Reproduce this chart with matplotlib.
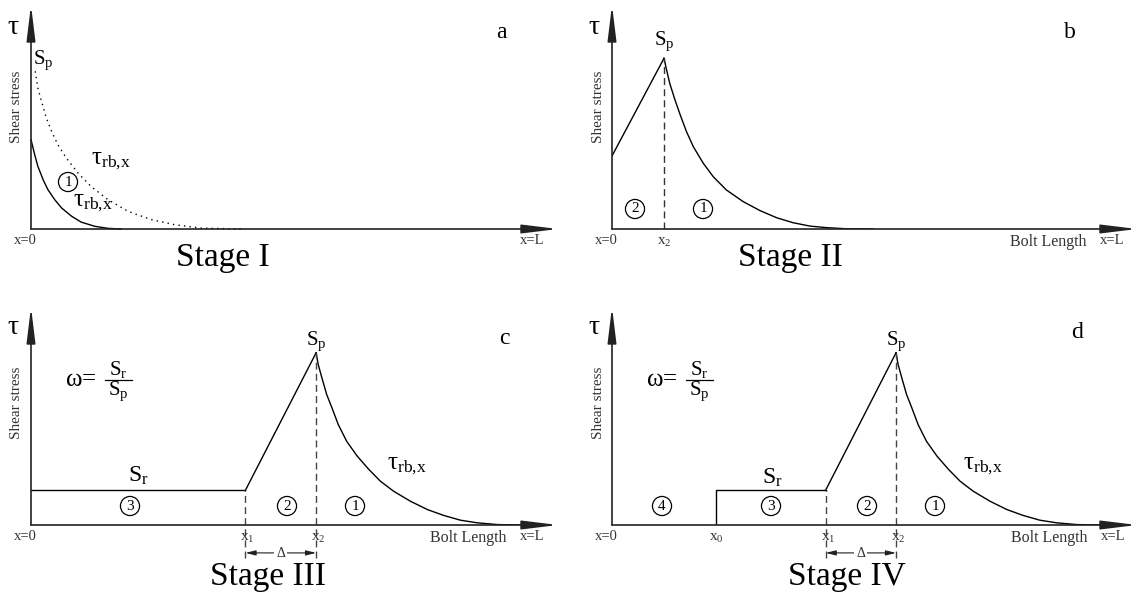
import matplotlib
matplotlib.use("Agg")
import matplotlib.pyplot as plt
from matplotlib.lines import Line2D

plt.rcParams['font.family'] = ['Liberation Serif', 'DejaVu Serif']
plt.rcParams['mathtext.fontset'] = 'custom'
plt.rcParams['mathtext.rm'] = 'Liberation Serif'
plt.rcParams['mathtext.it'] = 'Liberation Serif:italic'

W, H = 1137, 599

# ---- data (x as fraction of bolt length, stress in relative units) ----
# Stage I
a_dot_x = [0.008, 0.013, 0.020, 0.029, 0.039, 0.051, 0.067, 0.089, 0.114, 0.146, 0.184, 0.228, 0.273, 0.323, 0.399]
a_dot_y = [0.704, 0.629, 0.570, 0.496, 0.436, 0.376, 0.317, 0.250, 0.190, 0.131, 0.079, 0.042, 0.019, 0.004, 0]
a_sol_x = [0, 0.007, 0.013, 0.023, 0.032, 0.045, 0.058, 0.077, 0.095, 0.121, 0.146, 0.171]
a_sol_y = [0.399, 0.332, 0.280, 0.220, 0.176, 0.131, 0.094, 0.057, 0.031, 0.012, 0.003, 0]

# Stage II
b_rise_x = [0, 0.099]
b_rise_y = [0.326, 0.762]
b_dec_x = [0.099, 0.104, 0.110, 0.120, 0.130, 0.142, 0.155, 0.174, 0.193, 0.218, 0.250,
           0.282, 0.314, 0.345, 0.377, 0.409, 0.447, 0.498]
b_dec_y = [0.762, 0.710, 0.650, 0.576, 0.509, 0.434, 0.367, 0.293, 0.233, 0.174, 0.122,
           0.082, 0.050, 0.028, 0.013, 0.006, 0.001, 0]

# Stage III / IV
s_r = 0.16
s_p = 0.790
x0_pos = 0.198
x1_pos = 0.407
x2_pos = 0.541
cd_dec_x = [0.541, 0.545, 0.552, 0.561, 0.571, 0.583, 0.599, 0.619, 0.641, 0.663, 0.688,
            0.720, 0.752, 0.783, 0.815, 0.847, 0.885, 0.936]
cd_dec_y = [0.790, 0.736, 0.675, 0.599, 0.538, 0.461, 0.384, 0.316, 0.255, 0.201, 0.155,
            0.109, 0.071, 0.044, 0.022, 0.010, 0.002, 0]

fig = plt.figure(figsize=(W / 100, H / 100), dpi=100)

AX_COLOR = '#222222'
TXT = '#333333'
lw = 1.0
TAU_RB = r'$\mathrm{\tau_{rb{,}x}}$'


def make_axes(ox, oy, tip_x, tip_y):
    ax = fig.add_axes([ox / W, 1 - oy / H, (tip_x - ox) / W, (oy - tip_y) / H])
    ax.set_xlim(0, 1)
    ax.set_ylim(0, 1)
    ax.axis('off')
    arrow = dict(arrowstyle='-|>,head_length=1.8,head_width=0.22', color=AX_COLOR,
                 lw=1.2, shrinkA=0, shrinkB=0, mutation_scale=12)
    ax.annotate('', xy=(1, 0), xytext=(0, 0), arrowprops=arrow, annotation_clip=False)
    ax.annotate('', xy=(0, 1), xytext=(0, 0), arrowprops=arrow, annotation_clip=False)
    return ax


def ftext(px, py, s, size, color='black', **kw):
    fig.text(px / W, 1 - py / H, s, fontsize=size, color=color,
             ha=kw.pop('ha', 'center'), va=kw.pop('va', 'center'), **kw)


def circ(px, py, n):
    ftext(px, py, n, 11, bbox=dict(boxstyle='circle,pad=0.2', fc='none', ec='black', lw=0.9))


def common(ox, oy, tau_y, lab_y, tag, tag_x, tag_y, stage, stage_x, stage_y, bolt, L_x):
    ftext(ox - 18, tau_y, r'$\mathrm{\tau}$', 20)
    ftext(ox - 14, lab_y, 'Shear stress', 11, color=TXT, rotation=90)
    ftext(ox - 6, oy + 11, 'x=0', 10.5, color=TXT)
    ftext(L_x, oy + 11, 'x=L', 10.5, color=TXT)
    if bolt:
        ftext(L_x - 64, oy + 13, 'Bolt Length', 11.5, color=TXT)
    ftext(tag_x, tag_y, tag, 17)
    ftext(stage_x, stage_y, stage, 24)


def omega(ox, oy):
    # omega = Sr / Sp, built from separate pieces
    ftext(ox + 50, oy - 145, r'$\mathrm{\omega}$=', 18)
    ftext(ox + 87, oy - 155, r'$\mathrm{S_r}$', 15)
    ftext(ox + 87, oy - 134, r'$\mathrm{S_p}$', 15)
    fig.add_artist(Line2D([(ox + 74) / W, (ox + 101) / W], [1 - (oy - 145) / H] * 2,
                          color='black', lw=0.9))


# ---- panel a ----
ax = make_axes(31, 229, 558, 5)
ax.plot(a_dot_x, a_dot_y, color='black', lw=1.0, ls=(0, (1, 3)), clip_on=False)
ax.plot(a_sol_x, a_sol_y, color='black', lw=lw, clip_on=False)
common(31, 229, 27, 107, 'a', 501, 33, 'Stage I', 223, 258, False, 532)
ftext(43, 60, r'$\mathrm{S_p}$', 15)
ftext(111, 161, TAU_RB, 18)
ftext(93, 203, TAU_RB, 18)
circ(68, 182, '1')

# ---- panel b ----
ax = make_axes(612, 229, 1137, 5)
ax.plot(b_rise_x, b_rise_y, color='black', lw=lw)
ax.plot(b_dec_x, b_dec_y, color='black', lw=lw)
ax.plot([b_rise_x[1]] * 2, [0, b_rise_y[1]], color='#333333', lw=1.0, ls=(0, (5, 3)))
ax.text(b_rise_x[1], b_rise_y[1] + 0.075, r'$\mathrm{S_p}$', fontsize=15, ha='center', va='center')
ax.text(b_rise_x[1], -0.06, r'$\mathrm{x_2}$', fontsize=11, color=TXT, ha='center', va='center')
common(612, 229, 27, 107, 'b', 1070, 33, 'Stage II', 790, 258, True, 1112)
circ(635, 209, '2')
circ(703, 209, '1')


def stage34(ax, ox, oy, with_x0):
    if with_x0:
        ax.plot([x0_pos, x0_pos, x1_pos], [0, s_r, s_r], color='black', lw=lw)
        ax.text(x0_pos, -0.06, r'$\mathrm{x_0}$', fontsize=11, color=TXT, ha='center', va='center')
    else:
        ax.plot([0, x1_pos], [s_r, s_r], color='black', lw=lw)
    ax.plot([x1_pos, x2_pos], [s_r, s_p], color='black', lw=lw)
    ax.plot(cd_dec_x, cd_dec_y, color='black', lw=lw)
    dash = dict(color='#444444', lw=1.0, ls=(0, (5, 3)), clip_on=False)
    ax.plot([x1_pos, x1_pos], [-0.15, s_r], **dash)
    ax.plot([x2_pos, x2_pos], [-0.15, s_p], **dash)
    ax.text(x1_pos + 0.004, -0.06, r'$\mathrm{x_1}$', fontsize=11, color=TXT, ha='center', va='center')
    ax.text(x2_pos + 0.004, -0.06, r'$\mathrm{x_2}$', fontsize=11, color=TXT, ha='center', va='center')
    ax.annotate('', xy=(x1_pos, -0.128), xytext=(x2_pos, -0.128),
                arrowprops=dict(arrowstyle='<|-|>,head_length=0.6,head_width=0.15', color=AX_COLOR,
                                lw=0.8, shrinkA=0, shrinkB=0), annotation_clip=False)
    ax.text((x1_pos + x2_pos) / 2, -0.128, r'$\Delta$', fontsize=10, color=TXT, ha='center', va='center',
            bbox=dict(fc='white', ec='none', pad=1.0))
    ax.text(x2_pos, s_p + 0.055, r'$\mathrm{S_p}$', fontsize=15, ha='center', va='center')
    omega(ox, oy)


# ---- panel c ----
ax = make_axes(31, 525, 558, 307)
stage34(ax, 31, 525, False)
common(31, 525, 327, 403, 'c', 504, 338, 'Stage III', 268, 577, True, 532)
ftext(138, 476, r'$\mathrm{S_r}$', 17)
ftext(407, 466, TAU_RB, 18)
circ(130, 506, '3')
circ(287, 506, '2')
circ(355, 506, '1')

# ---- panel d ----
ax = make_axes(612, 525, 1137, 307)
stage34(ax, 612, 525, True)
common(612, 525, 327, 403, 'd', 1077, 333, 'Stage IV', 847, 577, True, 1113)
ftext(772, 478, r'$\mathrm{S_r}$', 17)
ftext(983, 466, TAU_RB, 18)
circ(662, 506, '4')
circ(771, 506, '3')
circ(867, 506, '2')
circ(935, 506, '1')

fig.savefig('out.png', dpi=100, facecolor='white')
